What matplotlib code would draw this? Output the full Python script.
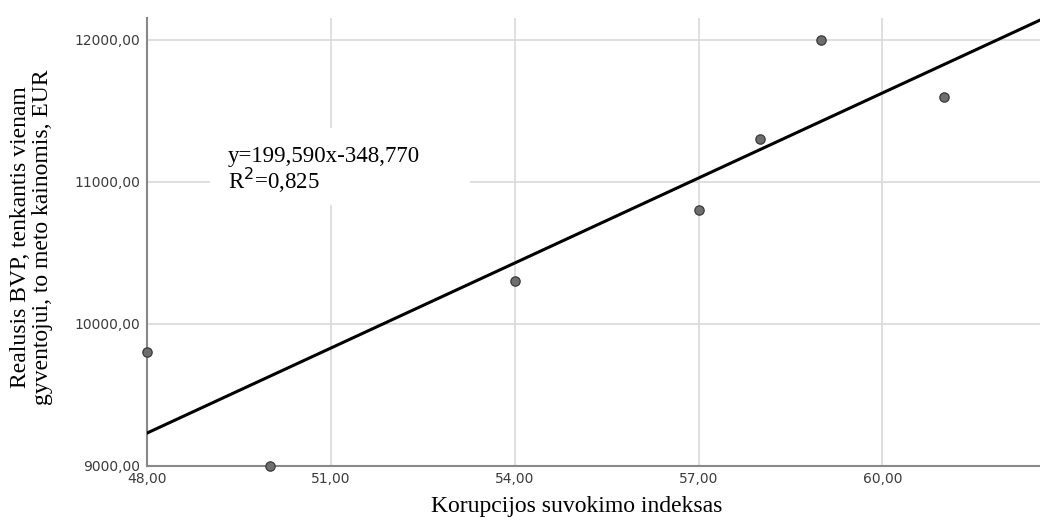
import numpy as np
import matplotlib
matplotlib.use("Agg")
import matplotlib.pyplot as plt
from matplotlib.patches import Rectangle

# ── Duomenys ─────────────────────────────────────────────
korupcija = [48, 50, 54, 57, 58, 59, 61]
bvp = [9800, 9000, 10300, 10800, 11300, 12000, 11600]
koef_a = 199.590
koef_b = -348.770
r2 = 0.825
x_ticks = [48, 51, 54, 57, 60]
y_ticks = [9000, 10000, 11000, 12000]

serif = ["Liberation Serif", "DejaVu Serif"]
sans = ["DejaVu Sans"]

fig = plt.figure(figsize=(10.4, 5.21), dpi=100)
ax = fig.add_axes([0.1413, 0.1056, 0.8587, 0.86])

x_min, x_max = 48, 62.57
y_min, y_max = 9000, 12155

ax.grid(True, color="#d9d9d9", linewidth=1.2, zorder=0)
ax.set_axisbelow(True)

x_line = np.array([x_min, x_max])
ax.plot(x_line, koef_a * x_line + koef_b, color="black", linewidth=2.2, zorder=3)

ax.scatter(korupcija, bvp, s=45, facecolor="#6e6e6e", edgecolor="#3a3a3a",
           linewidth=0.9, zorder=4, clip_on=False)

# lygtis su baltu fonu (dengia tinklelį)
ax.add_patch(Rectangle((49.03, 10840), 4.24, 540, facecolor="white",
                       edgecolor="none", zorder=1.5))
ax.text(49.32, 11255,
        f"y={koef_a:.3f}x{koef_b:.3f}".replace(".", ",") + "\n"
        + r"R$^{2}$=" + f"{r2:.3f}".replace(".", ","),
        fontsize=16.5, family=serif, va="top", ha="left", linespacing=0.95,
        zorder=2)

ax.set_xlim(x_min, x_max)
ax.set_ylim(y_min, y_max)
ax.set_xticks(x_ticks)
ax.set_yticks(y_ticks)
ax.set_xticklabels([f"{v:.2f}".replace(".", ",") for v in x_ticks],
                   family=sans, fontsize=10, color="#3c3c3c")
ax.set_yticklabels([f"{v:.2f}".replace(".", ",") for v in y_ticks],
                   family=sans, fontsize=10, color="#3c3c3c")
ax.tick_params(length=0)
ax.tick_params(axis="y", pad=5)
ax.tick_params(axis="x", pad=4)

for s in ["top", "right"]:
    ax.spines[s].set_visible(False)
for s in ["left", "bottom"]:
    ax.spines[s].set_color("#888888")
    ax.spines[s].set_linewidth(1.5)

ax.set_xlabel("Korupcijos suvokimo indeksas", family=serif, fontsize=17)
ax.xaxis.set_label_coords(0.4815, -0.066)
ax.set_ylabel("Realusis BVP, tenkantis vienam\ngyventojui, to meto kainomis, EUR",
              family=serif, fontsize=17, linespacing=1.1)
ax.yaxis.set_label_coords(-0.105, 0.51)

fig.savefig("out.png", dpi=100)
